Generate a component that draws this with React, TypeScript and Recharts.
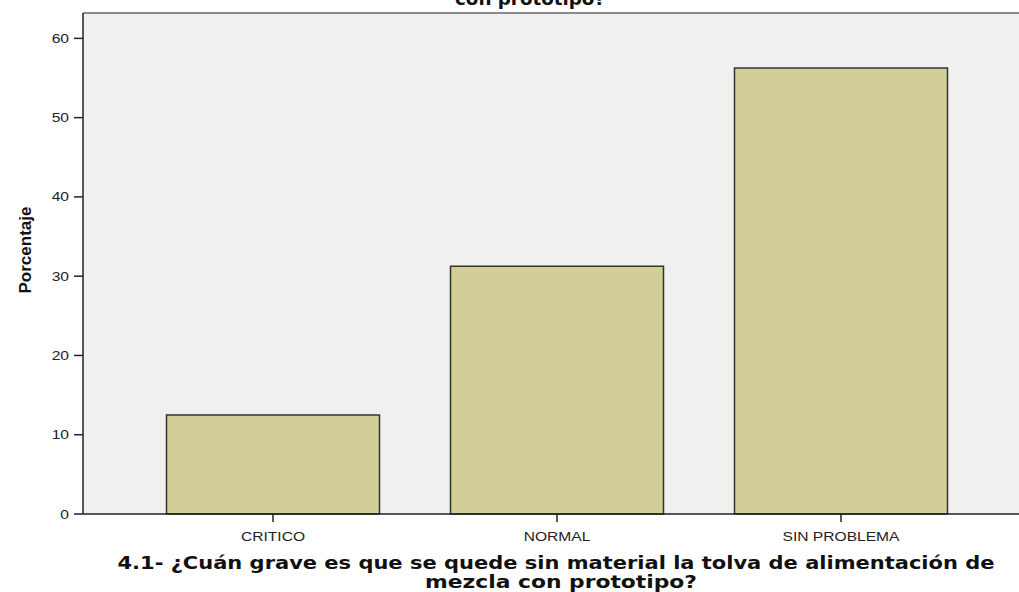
import React from "react";
import { BarChart, Bar, XAxis, YAxis, CartesianGrid, ReferenceLine } from "recharts";

// respuestas (n = 16) en porcentaje
const categorias = ["CRITICO", "NORMAL", "SIN PROBLEMA"];
const porcentajes = [12.5, 31.25, 56.25];
const yTicks = [0, 10, 20, 30, 40, 50, 60];
const yMax = 63.2;

const tituloSuperior = "con prototipo?";
const tituloX1 = "4.1- ¿Cuán grave es que se quede sin material la tolva de alimentación de";
const tituloX2 = "mezcla con prototipo?";
const tituloY = "Porcentaje";

const data = categorias.map((c, i) => ({ categoria: c, porcentaje: porcentajes[i] }));

const FONT = "'Liberation Sans', Arial, sans-serif";
const TITLE_FONT = "'DejaVu Sans', Verdana, sans-serif";
const STRETCH = 1.3;

const XTick = (props: any) => {
  const { x, y, payload } = props;
  return (
    <text
      transform={`translate(${x},${y + 12}) scale(${STRETCH},1)`}
      textAnchor="middle"
      fontFamily={FONT}
      fontSize={12}
      fill="#222"
    >
      {payload.value}
    </text>
  );
};

const YTick = (props: any) => {
  const { x, y, payload } = props;
  return (
    <text
      transform={`translate(${x},${y + 4.5}) scale(${STRETCH},1)`}
      textAnchor="end"
      fontFamily={FONT}
      fontSize={12}
      fill="#222"
    >
      {payload.value}
    </text>
  );
};

const XTitle = () => (
  <g fontFamily={TITLE_FONT} fontWeight="bold" fill="#111">
    <text x={530} y={5} fontSize={17} textAnchor="middle" textLength={150} lengthAdjust="spacingAndGlyphs">
      {tituloSuperior}
    </text>
    <text x={556} y={569} fontSize={17} textAnchor="middle" textLength={877} lengthAdjust="spacingAndGlyphs">
      {tituloX1}
    </text>
    <text x={561} y={588} fontSize={17} textAnchor="middle" textLength={272} lengthAdjust="spacingAndGlyphs">
      {tituloX2}
    </text>
  </g>
);

const YTitle = () => (
  <text
    transform="translate(31,250) rotate(-90)"
    textAnchor="middle"
    fontFamily={FONT}
    fontWeight="bold"
    fontSize={17}
    fill="#111"
  >
    {tituloY}
  </text>
);

export default function App() {
  return (
    <div style={{ position: "absolute", left: 0, top: 0, width: 1019, height: 592, overflow: "hidden", background: "#fff" }}>
      <BarChart
        width={1040}
        height={592}
        data={data}
        margin={{ top: 13, right: 9, left: 0, bottom: 0 }}
        barCategoryGap="12.5%"
      >
        <CartesianGrid horizontal={false} vertical={false} fill="#f0f0f0" />
        <XAxis
          dataKey="categoria"
          height={78}
          padding={{ left: 48, right: 48 }}
          tickSize={8}
          tickMargin={7}
          axisLine={{ stroke: "#222", strokeWidth: 1.5 }}
          tickLine={{ stroke: "#222", strokeWidth: 1.5 }}
          tick={<XTick />}
          label={{ content: () => <XTitle /> }}
        />
        <YAxis
          width={83}
          domain={[0, yMax]}
          ticks={yTicks}
          tickSize={9}
          tickMargin={5}
          axisLine={{ stroke: "#222", strokeWidth: 1.5 }}
          tickLine={{ stroke: "#222", strokeWidth: 1.5 }}
          tick={<YTick />}
          label={{ content: () => <YTitle /> }}
        />
        <ReferenceLine y={yMax} stroke="#8a8a8a" strokeWidth={2} />
        <Bar
          dataKey="porcentaje"
          fill="#d3ce97"
          stroke="#333"
          strokeWidth={1.5}
          isAnimationActive={false}
        />
      </BarChart>
    </div>
  );
}
